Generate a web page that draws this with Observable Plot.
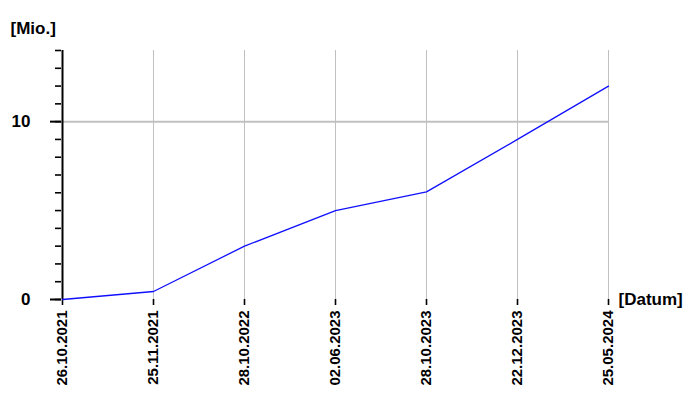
<!DOCTYPE html>
<html>
<head>
<meta charset="utf-8">
<script src="https://cdn.jsdelivr.net/npm/d3@7"></script>
<script src="https://cdn.jsdelivr.net/npm/@observablehq/plot@0.6"></script>
<style>
  html, body { margin: 0; padding: 0; background: #fff; }
  svg { display: block; }
</style>
</head>
<body>
<div id="chart"></div>
<script>
const dates = ["26.10.2021", "25.11.2021", "28.10.2022", "02.06.2023", "28.10.2023", "22.12.2023", "25.05.2024"];
const values = [0, 0.45, 3.0, 5.0, 6.05, 9.0, 12.0];
const majorTicks = [0, 10];
const minorTicks = [0,1,2,3,4,5,6,7,8,9,10,11,12,13,14];
const gridY = [10];
const yTitle = "[Mio.]";
const xTitle = "[Datum]";

const data = dates.map((d, i) => ({date: d, value: values[i]}));
const font = "'Liberation Sans', Arial, sans-serif";

const chart = Plot.plot({
  width: 700,
  height: 400,
  marginLeft: 61,
  marginRight: 92,
  marginTop: 50,
  marginBottom: 101,
  style: {fontFamily: font, background: "#fff", color: "#000"},
  x: {type: "point", domain: dates, padding: 0},
  y: {domain: [0, 14]},
  marks: [
    Plot.ruleX(dates.slice(1), {stroke: "#c0c0c0", strokeWidth: 1, strokeOpacity: 1}),
    Plot.ruleY(gridY, {stroke: "#c0c0c0", strokeWidth: 2}),
    Plot.axisY(minorTicks, {tickSize: 6, tickFormat: () => "", stroke: "#000", strokeWidth: 1.6, strokeOpacity: 1, label: null}),
    Plot.axisY(majorTicks, {tickSize: 11, tickPadding: 20, fontSize: 17, fontWeight: "bold", stroke: "#000", strokeWidth: 2, strokeOpacity: 1, label: null, fill: "#000"}),
    Plot.axisX({tickSize: 6, tickPadding: 5, tickRotate: -90, fontSize: 15, fontWeight: "bold", stroke: "#000", strokeWidth: 1.6, strokeOpacity: 1, label: null, fill: "#000"}),
    Plot.ruleX([dates[0]], {y1: 0, y2: 14, stroke: "#000", strokeWidth: 2}),
    Plot.ruleY([0], {x1: dates[0], x2: dates[dates.length - 1], stroke: "#000", strokeWidth: 2}),
    Plot.line(data, {x: "date", y: "value", stroke: "#1010ff", strokeWidth: 1.3}),
    Plot.text([yTitle], {frameAnchor: "top-left", dx: -51, dy: -22, textAnchor: "start", lineAnchor: "middle", fontSize: 17, fontWeight: "bold", fill: "#000"}),
    Plot.text([xTitle], {frameAnchor: "bottom-right", dx: 10, dy: 0, textAnchor: "start", lineAnchor: "middle", fontSize: 17, fontWeight: "bold", fill: "#000"})
  ]
});
document.getElementById("chart").appendChild(chart);
</script>
</body>
</html>
